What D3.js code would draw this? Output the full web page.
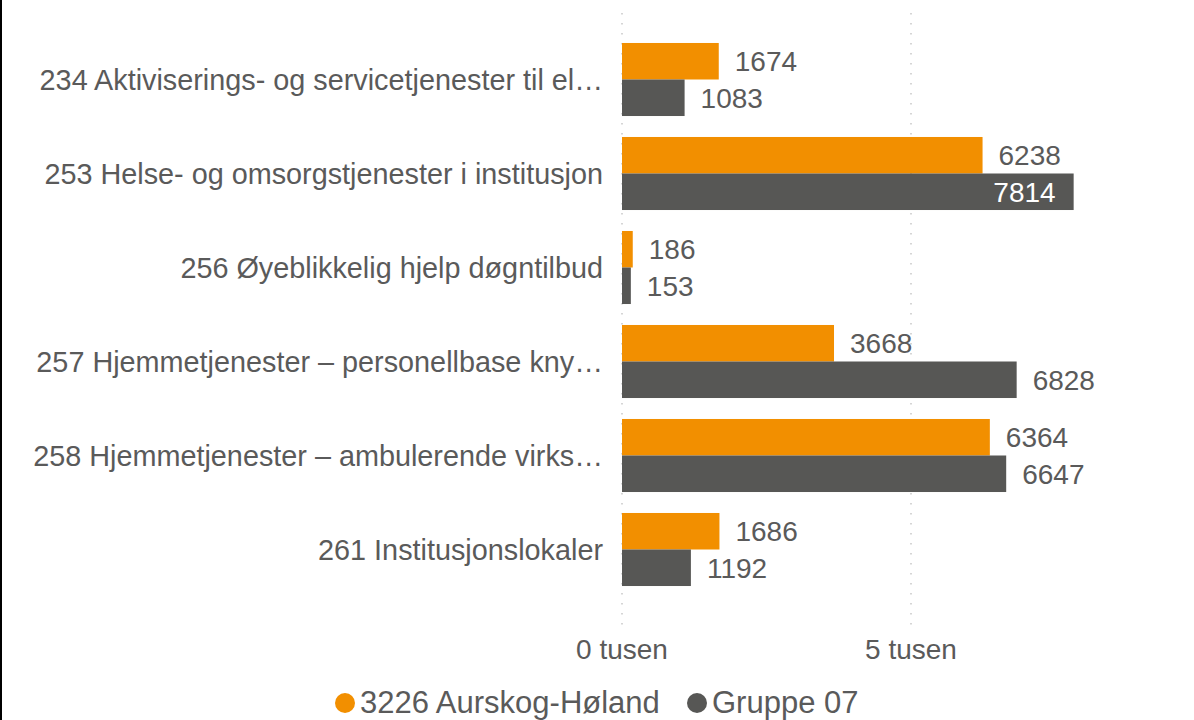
<!DOCTYPE html>
<html>
<head>
<meta charset="utf-8">
<script src="https://cdn.jsdelivr.net/npm/d3@7"></script>
<style>
  body { margin: 0; background: #fff; }
  svg { display: block; font-family: "Liberation Sans", Arial, sans-serif; }
</style>
</head>
<body>
<div id="chart"></div>
<script>
// data
var categories = [
  "234 Aktiviserings- og servicetjenester til el\u2026",
  "253 Helse- og omsorgstjenester i institusjon",
  "256 \u00d8yeblikkelig hjelp d\u00f8gntilbud",
  "257 Hjemmetjenester \u2013 personellbase kny\u2026",
  "258 Hjemmetjenester \u2013 ambulerende virks\u2026",
  "261 Institusjonslokaler"
];
var seriesNames = ["3226 Aurskog-H\u00f8land", "Gruppe 07"];
var aurskog = [1674, 6238, 186, 3668, 6364, 1686];
var gruppe = [1083, 7814, 153, 6828, 6647, 1192];
var tickValues = [0, 5000];
var tickLabels = ["0 tusen", "5 tusen"];

var width = 1194, height = 720;
var colors = ["#F28F00", "#575755"];
var textColor = "#5a5a5a";

var svg = d3.select("#chart").append("svg")
  .attr("width", width)
  .attr("height", height);

// left border
svg.append("rect")
  .attr("x", 0).attr("y", 0)
  .attr("width", 2).attr("height", height)
  .attr("fill", "#000");

var x = d3.scaleLinear().domain([0, 5000]).range([622, 911]);

var y = d3.scaleBand()
  .domain(categories)
  .range([32.5, 596.5])
  .paddingInner(0.223)
  .paddingOuter(0.1115);

var ySub = d3.scaleBand()
  .domain([0, 1])
  .range([0, y.bandwidth()]);

// dotted grid lines
svg.append("g")
  .selectAll("line")
  .data(tickValues)
  .enter().append("line")
  .attr("x1", d => x(d)).attr("x2", d => x(d))
  .attr("y1", 13).attr("y2", 626)
  .attr("stroke", "#c8c8c8")
  .attr("stroke-width", 1.5)
  .attr("stroke-dasharray", "1.5 8.5");

// x tick labels
svg.append("g")
  .selectAll("text")
  .data(tickValues)
  .enter().append("text")
  .attr("x", d => x(d))
  .attr("y", 659)
  .attr("text-anchor", "middle")
  .attr("font-size", 28)
  .attr("fill", textColor)
  .text((d, i) => tickLabels[i]);

// category labels
svg.append("g")
  .selectAll("text")
  .data(categories)
  .enter().append("text")
  .attr("x", 603)
  .attr("y", d => y(d) + y.bandwidth() / 2)
  .attr("dy", "0.35em")
  .attr("text-anchor", "end")
  .attr("font-size", 28.8)
  .attr("fill", textColor)
  .text(d => d);

var rows = [];
categories.forEach(function(c, i) {
  rows.push({cat: c, s: 0, v: aurskog[i]});
  rows.push({cat: c, s: 1, v: gruppe[i]});
});

var bars = svg.append("g");
bars.selectAll("rect")
  .data(rows)
  .enter().append("rect")
  .attr("x", x(0))
  .attr("y", d => y(d.cat) + ySub(d.s))
  .attr("width", d => x(d.v) - x(0))
  .attr("height", ySub.bandwidth())
  .attr("fill", d => colors[d.s]);

// value labels, inside when the bar runs too far right
var insideLimit = 1070;
bars.selectAll("text")
  .data(rows)
  .enter().append("text")
  .attr("y", d => y(d.cat) + ySub(d.s) + ySub.bandwidth() / 2)
  .attr("dy", "0.35em")
  .attr("font-size", 28)
  .each(function(d) {
    var inside = x(d.v) > insideLimit;
    d3.select(this)
      .attr("x", inside ? x(d.v) - 18 : x(d.v) + 16)
      .attr("text-anchor", inside ? "end" : "start")
      .attr("fill", inside ? "#fff" : textColor);
  })
  .text(d => d.v);

// legend
var legend = svg.append("g");
var legendX = [345, 697];
seriesNames.forEach(function(name, i) {
  legend.append("circle")
    .attr("cx", legendX[i]).attr("cy", 703)
    .attr("r", 10)
    .attr("fill", colors[i]);
  legend.append("text")
    .attr("x", legendX[i] + 15)
    .attr("y", 713)
    .attr("font-size", 31)
    .attr("fill", textColor)
    .text(name);
});
</script>
</body>
</html>
